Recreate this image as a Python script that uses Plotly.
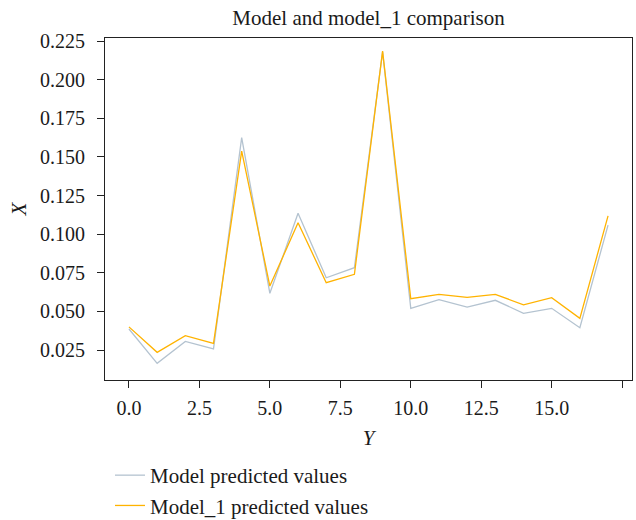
import plotly.graph_objects as go

# Sample index along the horizontal axis
idx = list(range(18))

# Predicted values of the two models
model_pred = [0.0386, 0.0164, 0.0306, 0.0257, 0.1625, 0.0617, 0.1135, 0.0718, 0.0783,
              0.2180, 0.0520, 0.0576, 0.0528, 0.0572, 0.0488, 0.0520, 0.0394, 0.1059]
model1_pred = [0.0400, 0.0235, 0.0343, 0.0293, 0.1538, 0.0664, 0.1074, 0.0686, 0.0740,
               0.2185, 0.0582, 0.0610, 0.0591, 0.0610, 0.0543, 0.0589, 0.0455, 0.1119]

series_names = ["Model predicted values", "Model_1 predicted values"]
series_colors = ["#b4c3d0", "#ffb300"]

FONT = "Liberation Serif, serif"

fig = go.Figure()
for name, vals, col in zip(series_names, [model_pred, model1_pred], series_colors):
    fig.add_trace(go.Scatter(x=idx, y=vals, mode="lines", name=name,
                             line=dict(color=col, width=1.3)))


def axis_style():
    return dict(
        showline=True, linecolor="#222222", linewidth=1.2, mirror=True,
        ticks="outside", ticklen=7, tickwidth=1.2, tickcolor="#222222",
        showgrid=False, zeroline=False,
        tickfont=dict(family=FONT, size=20, color="#1a1a1a"),
    )


fig.update_layout(
    width=636, height=520,
    margin=dict(l=105, r=4, t=38, b=140, autoexpand=False),
    paper_bgcolor="white", plot_bgcolor="white",
    font=dict(family=FONT, size=20, color="#1a1a1a"),
    title=dict(text="Model and model_1 comparison", x=(105 + 632) / 2 / 636, xanchor="center",
               y=1 - 18 / 520, yanchor="middle", font=dict(family=FONT, size=21)),
    legend=dict(x=(110 - 105) / 527, xanchor="left", y=(380 - 455) / 342, yanchor="top",
                font=dict(family=FONT, size=21), bgcolor="rgba(0,0,0,0)",
                tracegroupgap=0),
    showlegend=True,
)
fig.update_xaxes(**axis_style(), range=[-0.85, 17.85], tick0=0, dtick=2.5, tickformat=".1f",
                 ticklabelstandoff=3,
                 title=dict(text="<i>Y</i>", font=dict(family=FONT, size=21), standoff=12))
fig.update_yaxes(**axis_style(), range=[0.0056, 0.2270], tick0=0, dtick=0.025, tickformat=".3f",
                 ticklabelstandoff=8,
                 title=dict(text="<i>X</i>", font=dict(family=FONT, size=21), standoff=7))

fig.write_html("out.html")
